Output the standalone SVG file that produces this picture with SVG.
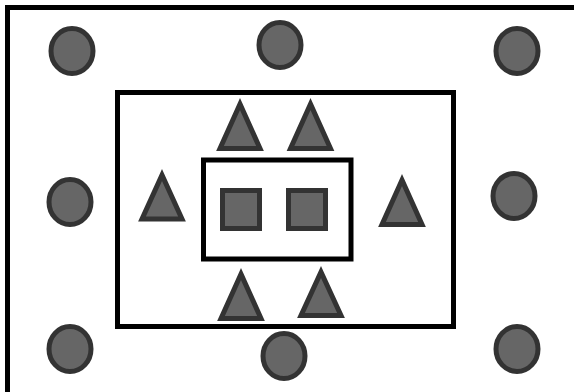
<svg xmlns="http://www.w3.org/2000/svg" width="574" height="392" viewBox="0 0 574 392">
<style>
.frame{fill:none;stroke:#000;stroke-width:5}
.shape{fill:#666;stroke:#333;stroke-width:5;stroke-linejoin:miter}
</style>
<rect width="574" height="392" fill="#fff"/>
<g id="frames">
<path class="frame" d="M7.5 400 V7.5 H580"/>
<rect class="frame" x="117.5" y="92.5" width="336" height="234"/>
<rect class="frame" x="203.5" y="160" width="147.5" height="99"/>
</g>
<g id="circles">
<ellipse id="c1" class="shape" cx="72" cy="51" rx="21" ry="22.5"/>
<ellipse id="c2" class="shape" cx="280" cy="45" rx="21" ry="22.5"/>
<ellipse id="c3" class="shape" cx="517" cy="51" rx="21" ry="22.5"/>
<ellipse id="c4" class="shape" cx="70" cy="202" rx="21" ry="22.5"/>
<ellipse id="c5" class="shape" cx="514" cy="196" rx="21" ry="22.5"/>
<ellipse id="c6" class="shape" cx="70" cy="349" rx="21" ry="22.5"/>
<ellipse id="c7" class="shape" cx="284" cy="356" rx="21" ry="22.5"/>
<ellipse id="c8" class="shape" cx="517" cy="349" rx="21" ry="22.5"/>
</g>
<g id="squares">
<rect id="s1" class="shape" x="222.5" y="190.5" width="37" height="38"/>
<rect id="s2" class="shape" x="288.5" y="190.5" width="37" height="38"/>
</g>
<g id="triangles">
<path id="t1" class="shape" d="M240 104 L260 148.5 L220 148.5 Z"/>
<path id="t2" class="shape" d="M310.5 104 L330.5 148.5 L290.5 148.5 Z"/>
<path id="t3" class="shape" d="M162 175 L182 219 L142 219 Z"/>
<path id="t4" class="shape" d="M402 180 L422 224.5 L382 224.5 Z"/>
<path id="t5" class="shape" d="M241 274 L261 318.5 L221 318.5 Z"/>
<path id="t6" class="shape" d="M321 272 L341 315.5 L301 315.5 Z"/>
</g>
</svg>
